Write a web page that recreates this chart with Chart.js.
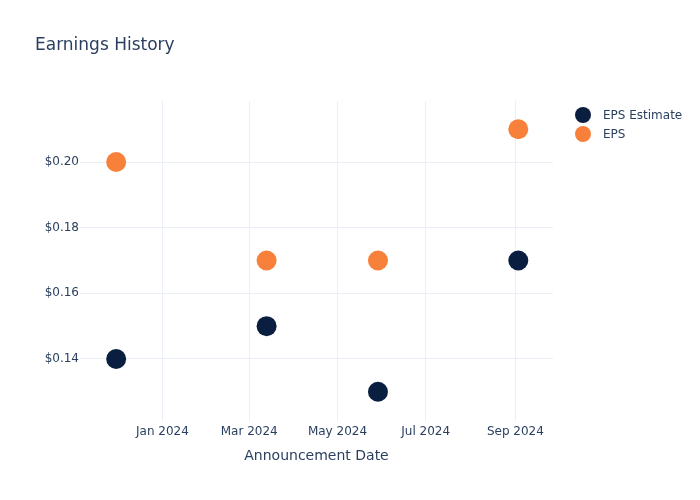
<!DOCTYPE html>
<html>
<head>
<meta charset="utf-8">
<script src="https://cdn.jsdelivr.net/npm/chart.js@4"></script>
<style>
  html, body { margin: 0; padding: 0; background: #fff; }
  #wrap { width: 700px; height: 500px; }
</style>
</head>
<body>
<div id="wrap"><canvas id="myChart" width="700" height="500"></canvas></div>
<script>
var dates = ['2023-11-30', '2024-03-13', '2024-05-29', '2024-09-03'];
var epsEstimate = [0.14, 0.15, 0.13, 0.17];
var eps = [0.20, 0.17, 0.17, 0.21];
var xTickDates = ['2024-01-01', '2024-03-01', '2024-05-01', '2024-07-01', '2024-09-01'];
var xTickLabels = ['Jan 2024', 'Mar 2024', 'May 2024', 'Jul 2024', 'Sep 2024'];
var yTicks = [0.14, 0.16, 0.18, 0.20];

var textColor = '#2a3f5f';
var gridColor = '#ebf0f8';
var font = 'DejaVu Sans';

function points(vals) {
  return dates.map(function (d, i) { return { x: Date.parse(d), y: vals[i] }; });
}

// title and legend drawn by hand, like the plotly layout
var extras = {
  id: 'extras',
  afterDraw: function (chart) {
    var c = chart.ctx;
    c.save();
    c.fillStyle = textColor;
    c.font = '17px "' + font + '"';
    c.textBaseline = 'middle';
    c.fillText('Earnings History', 35, 46);
    c.font = '12px "' + font + '"';
    chart.data.datasets.forEach(function (ds, i) {
      var y = 115 + i * 19;
      c.beginPath();
      c.arc(583, y, 8, 0, Math.PI * 2);
      c.fillStyle = ds.backgroundColor;
      c.fill();
      c.fillStyle = textColor;
      c.fillText(ds.label, 603, y + 1);
    });
    c.restore();
  }
};

var ctx = document.getElementById('myChart').getContext('2d');
var myChart = new Chart(ctx, {
  type: 'scatter',
  data: {
    datasets: [{
      label: 'EPS Estimate',
      data: points(epsEstimate),
      backgroundColor: '#0a1f40',
      borderWidth: 0,
      pointRadius: 10,
      pointHoverRadius: 10
    }, {
      label: 'EPS',
      data: points(eps),
      backgroundColor: '#f7813a',
      borderWidth: 0,
      pointRadius: 10,
      pointHoverRadius: 10
    }]
  },
  options: {
    responsive: false,
    animation: false,
    layout: { padding: { top: 101, right: 147, bottom: 0, left: 0 } },
    plugins: {
      legend: { display: false },
      title: { display: false },
      tooltip: { enabled: false }
    },
    scales: {
      x: {
        type: 'linear',
        min: Date.parse('2023-11-05'),
        max: Date.parse('2024-09-27'),
        afterFit: function (s) { s.height = 79; },
        afterBuildTicks: function (s) {
          s.ticks = xTickDates.map(function (d) { return { value: Date.parse(d) }; });
        },
        ticks: {
          color: textColor,
          font: { family: font, size: 12 },
          padding: 4,
          maxRotation: 0,
          autoSkip: false,
          callback: function (v) {
            var i = xTickDates.map(Date.parse).indexOf(v);
            return i >= 0 ? xTickLabels[i] : '';
          }
        },
        grid: { color: gridColor, drawTicks: false },
        border: { display: false },
        title: {
          display: true,
          text: 'Announcement Date',
          color: textColor,
          font: { family: font, size: 14 },
          padding: { top: 0, bottom: 35 }
        }
      },
      y: {
        min: 0.1211,
        max: 0.2186,
        afterFit: function (s) { s.width = 80; },
        afterBuildTicks: function (s) {
          s.ticks = yTicks.map(function (v) { return { value: v }; });
        },
        ticks: {
          color: textColor,
          font: { family: font, size: 12 },
          padding: 1,
          callback: function (v) { return '$' + v.toFixed(2); }
        },
        grid: { color: gridColor, drawTicks: false },
        border: { display: false }
      }
    }
  },
  plugins: [extras]
});
</script>
</body>
</html>
